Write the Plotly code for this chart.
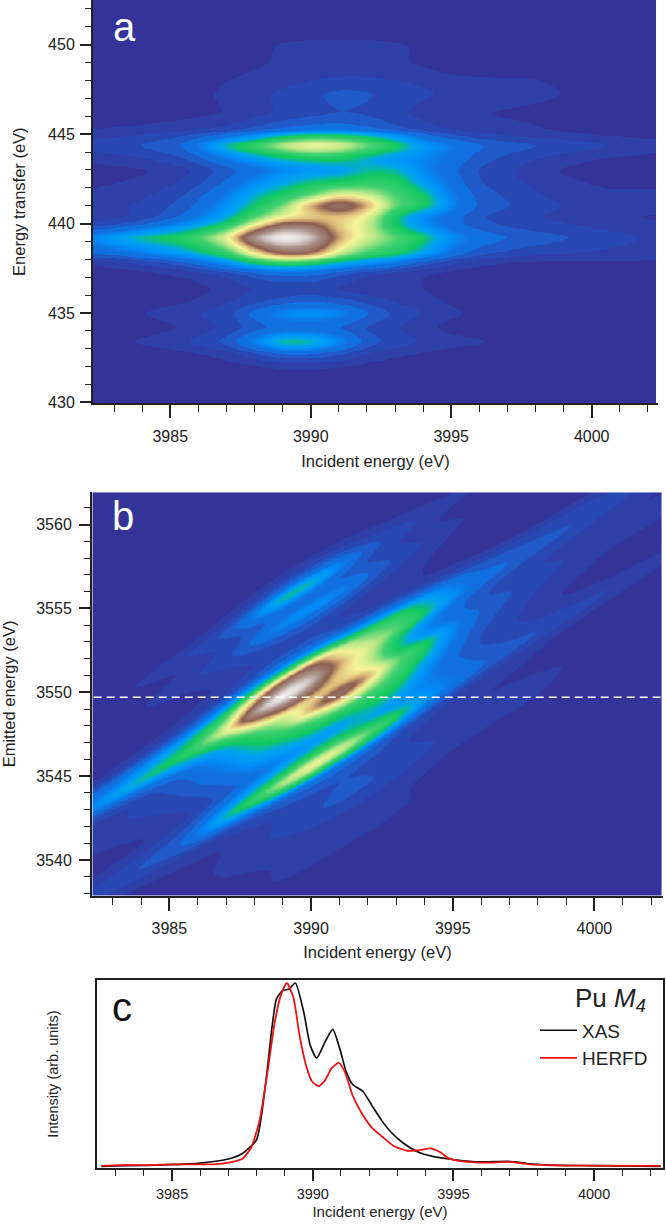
import numpy as np
import plotly.graph_objects as go

W, H = 666, 1231

# Incident energy (eV) columns of the RIXS map
incident = [3982.3, 3984, 3985.5, 3987, 3988, 3989, 3990, 3991, 3992, 3993, 3994, 3995, 3996, 3997.5, 3999, 4000.5, 4002.3]
# Energy transfer (eV) rows of the RIXS map
transfer = [430.0, 431.4, 432, 432.7, 433.4, 434.2, 435, 435.7, 436.4, 437.2, 437.8, 438.4, 439.25, 439.9, 440.4,
            441.05, 441.6, 442.3, 443, 443.6, 444.4, 445, 445.3, 446.2, 447.3, 448, 449, 450, 450.8, 452.5]
_0 = [0.0] * 17
rixs = [
    _0,
    _0,
    [0, 0, 0, .01, .03, .05, .05, .04, .02, 0, 0, 0, 0, 0, 0, 0, 0],
    [0, 0, .02, .06, .12, .18, .18, .14, .08, .05, .03, .01, 0, 0, 0, 0, 0],
    [.02, .05, .09, .16, .29, .44, .42, .30, .17, .12, .09, .06, .05, .02, 0, 0, 0],
    [0, .01, .04, .10, .16, .20, .20, .18, .13, .09, .05, .02, .01, 0, 0, 0, 0],
    [0, .04, .08, .12, .22, .30, .32, .30, .20, .13, .09, .05, .03, 0, 0, 0, 0],
    [0, .01, .03, .08, .12, .16, .18, .16, .12, .08, .06, .03, .01, 0, 0, 0, 0],
    [0, 0, .01, .05, .09, .10, .10, .08, .05, .05, .04, .01, 0, 0, 0, 0, 0],
    [.01, .02, .05, .10, .16, .20, .20, .14, .09, .06, .04, .02, 0, 0, 0, 0, 0],
    [.04, .09, .16, .30, .42, .46, .44, .36, .30, .24, .15, .09, .05, .02, .02, .03, .03],
    [.20, .27, .36, .48, .66, .80, .78, .60, .50, .46, .36, .24, .16, .12, .10, .08, .06],
    [.30, .42, .46, .62, .90, 1.02, .94, .70, .60, .52, .44, .30, .23, .18, .15, .12, .08],
    [.12, .20, .32, .45, .64, .82, .80, .66, .60, .42, .30, .22, .16, .12, .10, .07, .05],
    [.05, .10, .20, .36, .50, .62, .66, .68, .62, .42, .28, .22, .14, .10, .07, .05, .03],
    [.07, .10, .16, .30, .42, .52, .72, .84, .72, .52, .46, .28, .18, .13, .09, .07, .07],
    [.05, .08, .14, .26, .38, .44, .52, .64, .60, .50, .44, .26, .17, .11, .07, .05, .05],
    [.03, .05, .10, .20, .30, .36, .42, .44, .47, .47, .34, .23, .14, .09, .05, .03, .03],
    [.02, .03, .07, .16, .22, .28, .31, .33, .40, .40, .28, .20, .13, .08, .03, .02, .02],
    [.05, .08, .13, .25, .33, .38, .42, .42, .36, .31, .28, .23, .16, .10, .06, .03, .02],
    [.12, .15, .20, .42, .50, .60, .66, .63, .54, .46, .33, .26, .20, .16, .13, .10, .06],
    [.06, .09, .13, .20, .28, .38, .42, .42, .38, .30, .20, .14, .10, .07, .05, .03, .02],
    [.04, .05, .07, .10, .15, .19, .22, .22, .20, .15, .11, .08, .06, .05, .03, .02, .01],
    [0, .01, .02, .04, .07, .10, .12, .14, .13, .10, .07, .05, .04, .03, .02, .01, 0],
    [0, .01, .02, .05, .08, .10, .13, .16, .15, .12, .10, .08, .07, .06, .04, .01, 0],
    [0, 0, .01, .04, .06, .07, .09, .10, .10, .09, .08, .06, .05, .05, .03, .01, 0],
    [0, 0, 0, 0, .03, .05, .06, .06, .06, .05, .03, 0, 0, 0, 0, 0, 0],
    [0, 0, 0, 0, .02, .05, .06, .06, .06, .05, .03, 0, 0, 0, 0, 0, 0],
    _0,
    _0,
]

xas_x = [3982.48, 3984.95, 3986.0, 3987.0, 3987.5, 3988.0, 3988.33, 3988.56, 3988.71, 3988.93, 3989.16, 3989.38, 3989.68,
         3989.91, 3990.14, 3990.44, 3990.71, 3990.96, 3991.19, 3991.41, 3991.79, 3992.09, 3992.46, 3992.76, 3993.21,
         3993.74, 3994.26, 3994.86, 3995.47, 3996.07, 3996.97, 3997.72, 3998.47, 3999.97, 4002.37]
xas_y = [0, .009, .018, .04, .07, .145, .46, .77, .913, .958, .967, 1.0, .84, .66, .59, .68, .747, .642, .515, .448, .407,
         .335, .248, .19, .127, .078, .054, .04, .029, .024, .027, .014, .007, .004, 0]
herfd_x = [3982.48, 3983.15, 3984.2, 3984.95, 3986.46, 3987.06, 3987.5, 3987.8, 3988.1, 3988.41, 3988.63, 3988.86, 3989.08,
           3989.31, 3989.53, 3989.76, 3989.98, 3990.21, 3990.44, 3990.66, 3990.92, 3991.14, 3991.41, 3991.71, 3992.09,
           3992.46, 3992.91, 3993.36, 3993.74, 3994.19, 3994.49, 3994.86, 3995.47, 3996.22, 3996.97, 3997.72, 3999.22, 4002.37]
herfd_y = [.002, .007, .007, .011, .011, .022, .042, .10, .244, .533, .769, .931, 1.0, .922, .714, .552, .461, .438, .47,
           .533, .564, .515, .389, .298, .213, .163, .108, .085, .087, .098, .081, .042, .024, .02, .024, .011, .004, .002]

dashed_energy = 3549.7

colors = [
    [0.00, "#333399"], [0.04, "#333399"], [0.04, "#2e3fa8"], [0.09, "#2e3fa8"], [0.09, "#2849b4"], [0.14, "#2849b4"],
    [0.14, "#1f5ac8"], [0.19, "#1f5ac8"], [0.19, "#1170e0"], [0.24, "#1170e0"],
    [0.30, "#0090f8"], [0.36, "#00a4f0"], [0.42, "#10c860"], [0.50, "#40d070"], [0.57, "#b8e888"], [0.63, "#f6f59a"],
    [0.69, "#dcb878"], [0.75, "#8c5e50"], [0.85, "#a89088"], [0.93, "#dcd4d4"], [1.00, "#ffffff"],
]


def dom_x(a, b):
    return [a / W, b / W]


def dom_y(top, bottom):
    return [1 - bottom / H, 1 - top / H]


def blur(a, sigma, axis):
    n = int(3 * sigma) + 1
    k = np.exp(-0.5 * (np.arange(-n, n + 1) / sigma) ** 2)
    k /= k.sum()
    pad = [(0, 0), (0, 0)]
    pad[axis] = (n, n)
    p = np.pad(a, pad, mode="edge")
    return np.apply_along_axis(lambda v: np.convolve(v, k, mode="valid"), axis, p)


# The table is read on a coarse grid; it is resampled and softened so the map is smooth as in the original.
z = np.array(rixs, float)
STEP = 0.04
t_fine = np.arange(430.0, 452.5, STEP)
i_fine = np.arange(3982.3, 4002.3, STEP)
by_col = np.array([np.interp(t_fine, transfer, z[:, j]) for j in range(z.shape[1])])
fine = np.array([np.interp(i_fine, incident, by_col[:, k]) for k in range(t_fine.size)])
fine = blur(blur(fine, 0.30 / STEP, 1), 0.13 / STEP, 0)

# Panel b shows the same measurement in other coordinates: emitted = incident - transfer.
emit_axis = np.arange(3537.95, 3561.95, 0.08)
inc_axis = np.arange(3982.33, 4002.4, 0.08)
I, E = np.meshgrid(inc_axis, emit_axis)
T = I - E
ti = np.clip(((T - t_fine[0]) / STEP).round().astype(int), 0, t_fine.size - 1)
ii = np.clip(((I - i_fine[0]) / STEP).round().astype(int), 0, i_fine.size - 1)
z_b = fine[ti, ii]
z_b[(T < t_fine[0]) | (T > t_fine[-1])] = 0

fig = go.Figure()
fig.add_trace(go.Heatmap(x=i_fine[::3], y=t_fine[::2], z=fine[::2, ::3], zmin=0, zmax=1, colorscale=colors, zsmooth="best",
                         showscale=False, xaxis="x", yaxis="y"))
fig.add_trace(go.Heatmap(x=inc_axis, y=emit_axis, z=z_b, zmin=0, zmax=1, colorscale=colors, zsmooth="best",
                         showscale=False, xaxis="x2", yaxis="y2"))
fig.add_trace(go.Scatter(x=[inc_axis[0], inc_axis[-1]], y=[dashed_energy, dashed_energy], mode="lines",
                         line=dict(color="white", width=1.6, dash="8px,5px"), showlegend=False, xaxis="x2", yaxis="y2"))
fig.add_trace(go.Scatter(x=xas_x, y=xas_y, mode="lines", name="XAS", line=dict(color="#111111", width=1.7, shape="spline", smoothing=0.6),
                         xaxis="x3", yaxis="y3"))
fig.add_trace(go.Scatter(x=herfd_x, y=herfd_y, mode="lines", name="HERFD", line=dict(color="#ee1111", width=1.8, shape="spline", smoothing=0.6),
                         xaxis="x3", yaxis="y3"))

FONT = "Liberation Sans"
INK = "#222222"


def ax(size=16, tsize=16.5, mlen=7, **kw):
    base = dict(showgrid=False, zeroline=False, showline=True, linecolor=INK, linewidth=2, ticks="outside",
                tickwidth=1.5, tickcolor=INK, tickfont=dict(family=FONT, size=size, color=INK), dtick=5,
                minor=dict(dtick=1, ticks="outside", ticklen=mlen, tickwidth=1.2, tickcolor=INK, showgrid=False),
                title=dict(font=dict(family=FONT, size=tsize, color=INK)))
    base.update(kw)
    return base


def note(text, x, y, size, color):
    return dict(text=text, x=x / W, y=1 - y / H, xref="paper", yref="paper", xanchor="center", yanchor="middle",
                showarrow=False, font=dict(family=FONT, size=size, color=color))


fig.update_layout(
    width=W, height=H, autosize=False, margin=dict(l=0, r=0, t=0, b=0), paper_bgcolor="white", plot_bgcolor="white",
    font=dict(family=FONT, color=INK),
    xaxis=ax(domain=dom_x(93, 658), range=[3982.25, 4002.36], anchor="y", title_text="Incident energy (eV)", title_standoff=12,
             ticklen=13, ticklabelstandoff=4),
    yaxis=ax(mlen=6, domain=dom_y(0, 406), range=[429.95, 452.5], anchor="x", title_text="Energy transfer (eV)", title_standoff=18,
             ticklen=11, ticklabelstandoff=2),
    xaxis2=ax(domain=dom_x(92, 663), range=[3982.27, 4002.42], anchor="y2", title_text="Incident energy (eV)", title_standoff=10,
              ticklen=13, ticklabelstandoff=4),
    yaxis2=ax(mlen=6, domain=dom_y(495, 902), range=[3537.85, 3561.95], anchor="x2", title_text="Emitted energy (eV)", title_standoff=24,
              ticklen=11, ticklabelstandoff=4),
    xaxis3=ax(size=14.5, tsize=15, mlen=6, domain=dom_x(97, 663), range=[3982.33, 4002.45], anchor="y3", mirror=True,
              title_text="Incident energy (eV)", title_standoff=6, ticklen=11, ticklabelstandoff=0),
    yaxis3=dict(domain=dom_y(986, 1176), range=[-.011, 1.0185], anchor="x3", showline=True, linecolor=INK, linewidth=2, mirror=True,
                showgrid=False, zeroline=False, ticks="", showticklabels=False,
                title=dict(text="Intensity (arb. units)", font=dict(family=FONT, size=14.5, color=INK), standoff=33)),
    legend=dict(x=535 / W, y=1 - 1018 / H, xanchor="left", yanchor="top", bgcolor="rgba(0,0,0,0)", borderwidth=0,
                font=dict(family=FONT, size=19, color=INK), tracegroupgap=0, itemwidth=37),
    annotations=[
        note("a", 124, 27, 40, "white"),
        note("b", 123, 519, 40, "white"),
        note("c", 122, 1014, 40, "#111111"),
        note("Pu <i>M<sub>4</sub></i>", 610, 1006, 26, INK),
    ],
)

fig.write_html("out.html", config=dict(displayModeBar=False),
               post_script="document.body.style.margin='0';document.documentElement.style.overflow='hidden';")
